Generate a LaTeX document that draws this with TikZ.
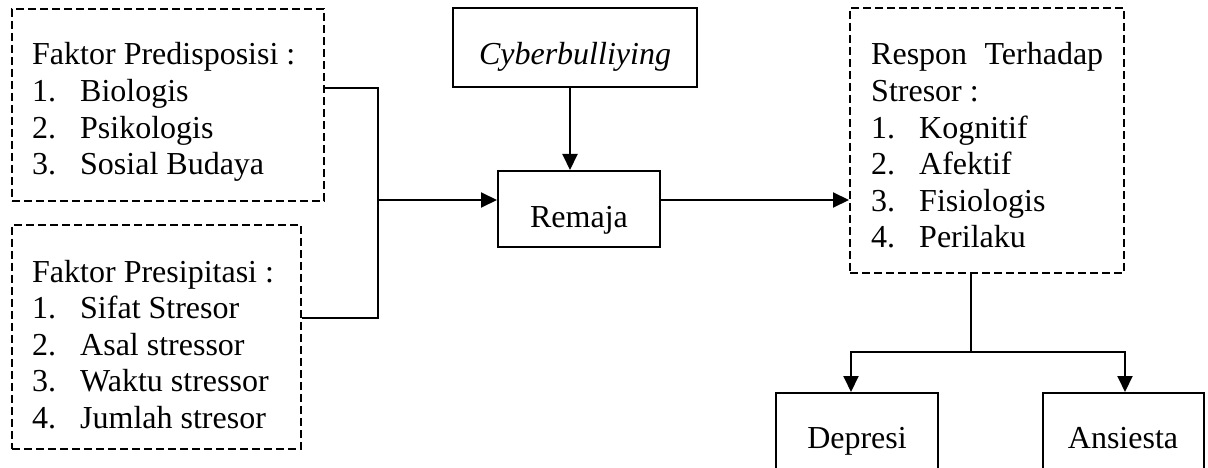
\documentclass[tikz,border=0pt]{standalone}
\usepackage{fontspec}
\setmainfont{Liberation Serif}
\usetikzlibrary{arrows.meta}
\begin{document}
\begin{tikzpicture}[x=1pt,y=-1pt,
  solidbox/.style={draw, rectangle, inner sep=0pt, line width=2pt},
  dashbox/.style={draw, rectangle, inner sep=0pt, line width=2pt, dash pattern=on 8pt off 4pt},
  txt/.style={inner sep=0pt, font=\fontsize{32}{36.6}\selectfont},
  conn/.style={line width=2pt},
  arr/.style={conn, -{Triangle[length=16pt,width=15pt]}}]
\useasboundingbox (0,0) rectangle (1208,468);
\clip (0,0) rectangle (1208,468);
% boxes
\node[dashbox, minimum width=312pt, minimum height=192pt] (pred) at (168,105) {};
\node[dashbox, minimum width=289pt, minimum height=224pt] (prec) at (156.5,337) {};
\node[solidbox, minimum width=244pt, minimum height=79pt] (cyber) at (575,47.5) {};
\node[solidbox, minimum width=162pt, minimum height=76pt] (remaja) at (579,209) {};
\node[dashbox, minimum width=274pt, minimum height=265pt] (respon) at (987,140.5) {};
\node[solidbox, minimum width=162pt, minimum height=107pt] (depresi) at (857,446.5) {};
\node[solidbox, minimum width=161pt, minimum height=107pt] (ansiesta) at (1123.5,446.5) {};
% texts
\node[txt, anchor=base west] (predtxt) at (32,65) {\begin{tabular}[t]{@{}p{48pt}@{}l@{}}\multicolumn{2}{@{}l@{}}{Faktor Predisposisi :}\\ 1. & Biologis\\ 2. & Psikologis\\ 3. & Sosial Budaya\end{tabular}};
\node[txt, anchor=base west] (prectxt) at (32,282) {\begin{tabular}[t]{@{}p{48pt}@{}l@{}}\multicolumn{2}{@{}l@{}}{Faktor Presipitasi :}\\ 1. & Sifat Stresor\\ 2. & Asal stressor\\ 3. & Waktu stressor\\ 4. & Jumlah stresor\end{tabular}};
\node[txt, anchor=base] (cybertxt) at (575,65) {\itshape Cyberbulliying};
\node[txt, anchor=base] (remajatxt) at (579,227) {Remaja};
\node[txt, anchor=base west] (respontxt) at (871,65) {\begin{tabular}[t]{@{}p{48pt}@{}l@{}}\multicolumn{2}{@{}l@{}}{\makebox[232pt][s]{Respon\hfill Terhadap}}\\ \multicolumn{2}{@{}l@{}}{Stresor :}\\ 1. & Kognitif\\ 2. & Afektif\\ 3. & Fisiologis\\ 4. & Perilaku\end{tabular}};
\node[txt, anchor=base] (depresitxt) at (857,448) {Depresi};
\node[txt, anchor=base] (ansiestatxt) at (1123,448) {Ansiesta};
% connectors
\coordinate (j1) at (378,88);
\coordinate (j2) at (378,318);
\coordinate (j3) at (378,200);
\draw[conn] (pred.east |- j1) -- (j1) -- (j2) -- (prec.east |- j2);
\draw[arr] (j3) -- (remaja.west |- j3);
\draw[arr] (remaja.east |- j3) -- (respon.west |- j3);
\coordinate (c1) at (570,0);
\draw[arr] (cyber.south -| c1) -- (remaja.north -| c1);
\coordinate (s1) at (971,352);
\coordinate (s2) at (851,352);
\coordinate (s3) at (1125,352);
\draw[conn] (respon.south -| s1) -- (s1);
\draw[arr] (s1) -- (s2) -- (depresi.north -| s2);
\draw[arr] (s1) -- (s3) -- (ansiesta.north -| s3);
\end{tikzpicture}
\end{document}
